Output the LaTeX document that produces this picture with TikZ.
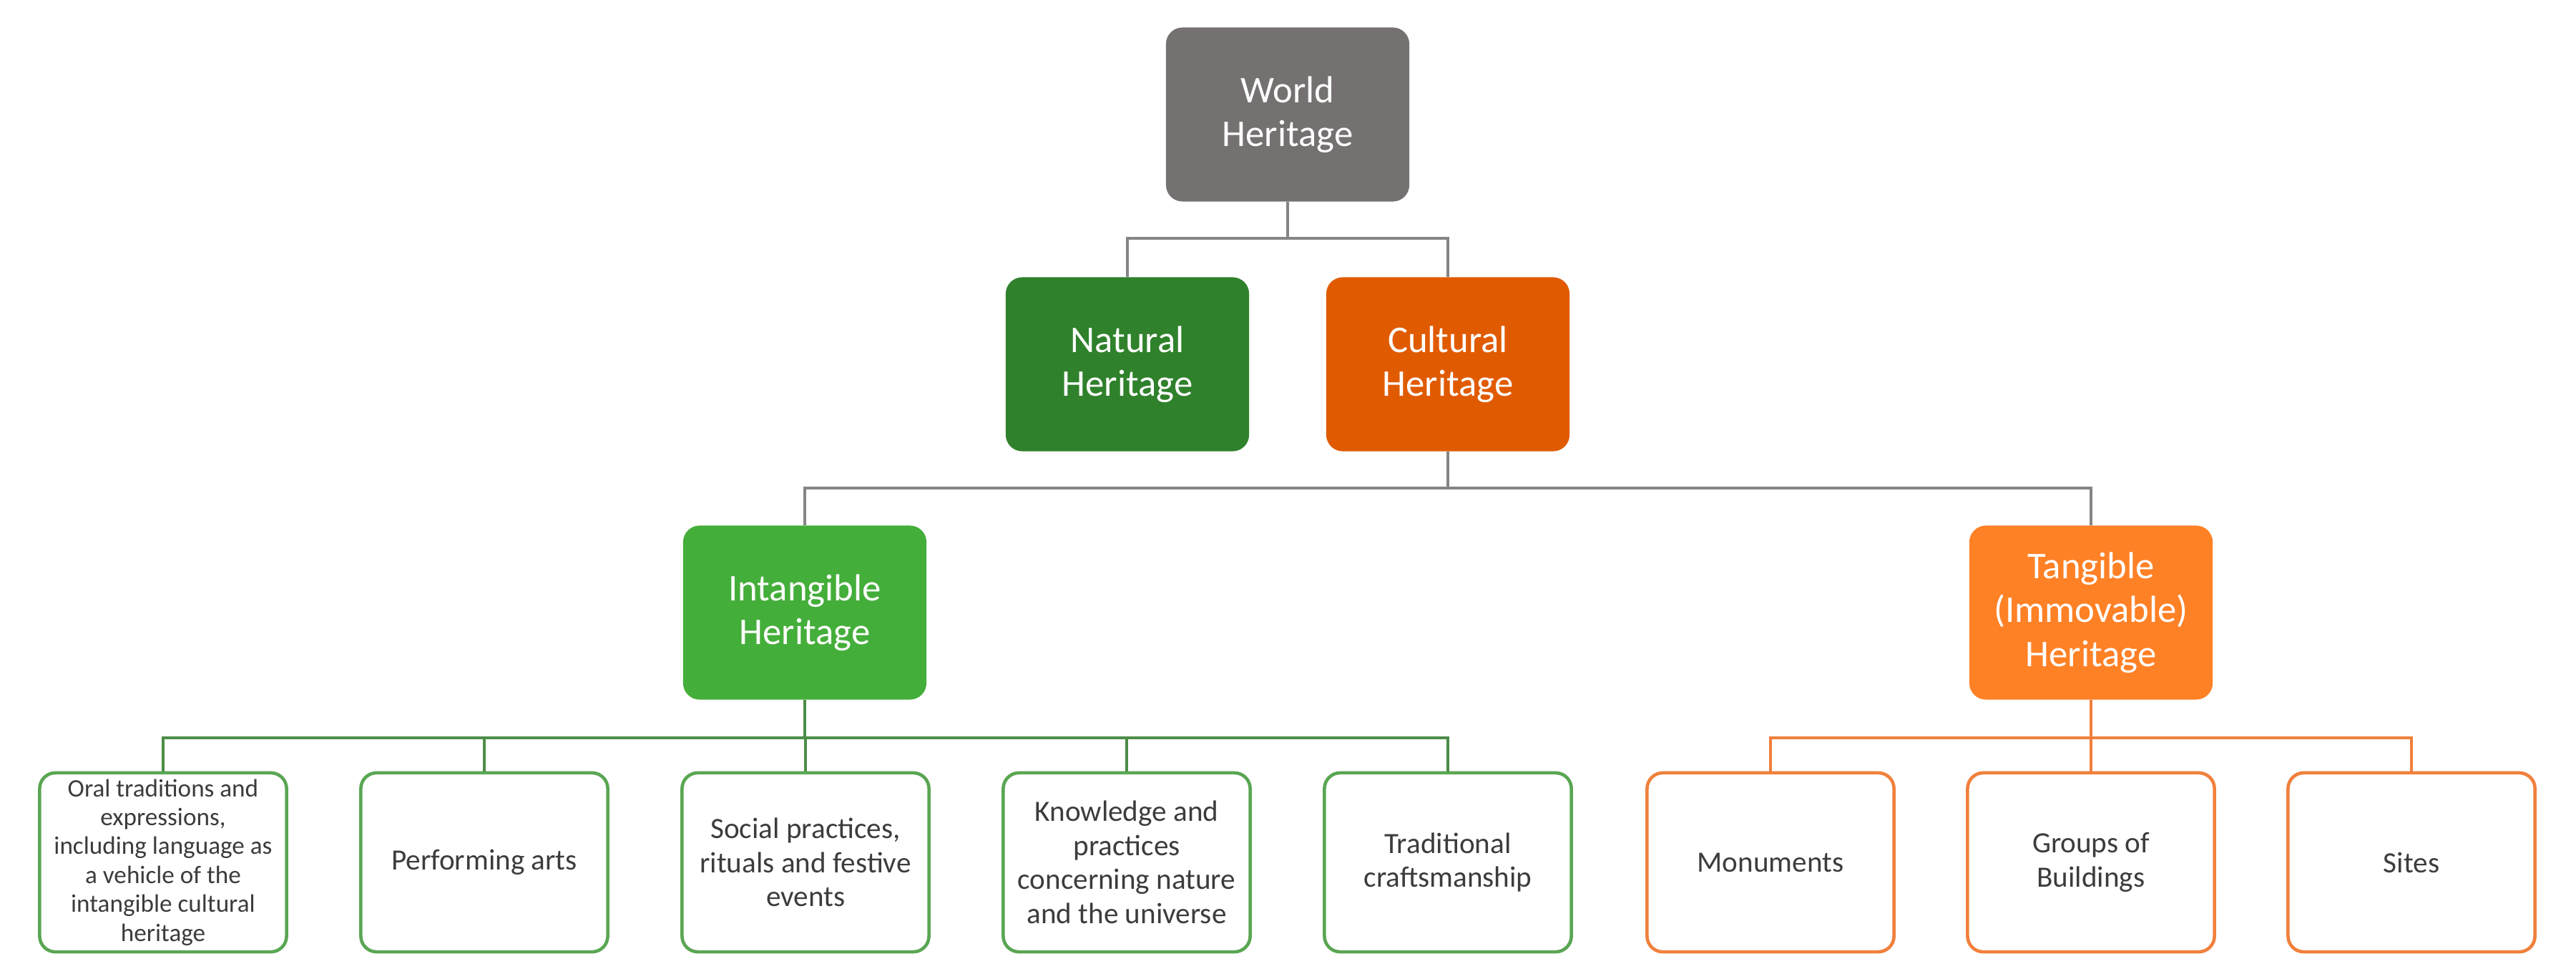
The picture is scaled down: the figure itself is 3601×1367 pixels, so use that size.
\documentclass[tikz,border=0pt]{standalone}
\usepackage{fontspec}
\setmainfont{Carlito}
\definecolor{worldgray}{HTML}{767171}
\definecolor{natgreen}{HTML}{2F812B}
\definecolor{cultorange}{HTML}{E05B00}
\definecolor{intgreen}{HTML}{44AE3A}
\definecolor{tangorange}{HTML}{FF8126}
\definecolor{linegray}{HTML}{858585}
\definecolor{leafgreen}{HTML}{5AA653}
\definecolor{leaforange}{HTML}{F0803C}
\definecolor{leaftext}{HTML}{3C3C3C}
\tikzset{
  bigbox/.style={rectangle, rounded corners=0.23cm, minimum width=3.4cm, minimum height=2.43cm,
    inner sep=0pt, align=center, text=white, font=\fontsize{15}{17.5}\selectfont},
  leafbox/.style={rectangle, rounded corners=0.22cm, minimum width=3.45cm, minimum height=2.5cm,
    inner sep=0pt, align=center, fill=white, text=leaftext, line width=1.3pt,
    font=\fontsize{11.7}{13.5}\selectfont},
  gleaf/.style={leafbox, draw=leafgreen},
  oleaf/.style={leafbox, draw=leaforange},
  grayline/.style={draw=linegray, line width=1.1pt},
  greenline/.style={draw=leafgreen!85!black, line width=1.3pt},
  orangeline/.style={draw=leaforange, line width=1.3pt},
}
\begin{document}
\begin{tikzpicture}[x=0.01cm,y=-0.01cm]
\useasboundingbox[fill=white] (0,0) rectangle (3601,1367);
% top levels
\node[bigbox, fill=worldgray] (world) at (1800,160) {World\\Heritage};
\node[bigbox, fill=natgreen] (natural) at (1576,509) {Natural\\Heritage};
\node[bigbox, fill=cultorange] (cultural) at (2024,509) {Cultural\\Heritage};
\node[bigbox, fill=intgreen] (intangible) at (1125,856) {Intangible\\Heritage};
\node[bigbox, fill=tangorange] (tangible) at (2923,856) {Tangible\\(Immovable)\\Heritage};
% leaves
\node[gleaf, font=\fontsize{10}{11.5}\selectfont] (oral) at (228,1205) {Oral traditions and\\expressions,\\including language as\\a vehicle of the\\intangible cultural\\heritage};
\node[gleaf] (perf) at (677,1205) {Performing arts};
\node[gleaf] (social) at (1126,1205) {Social practices,\\rituals and festive\\events};
\node[gleaf] (know) at (1575,1205) {Knowledge and\\practices\\concerning nature\\and the universe};
\node[gleaf] (trad) at (2024,1205) {Traditional\\craftsmanship};
\node[oleaf] (monu) at (2475,1205) {Monuments};
\node[oleaf] (groups) at (2923,1205) {Groups of\\Buildings};
\node[oleaf] (sites) at (3371,1205) {Sites};
% junctions
\coordinate (j1) at (1800,333);
\coordinate (j2) at (2024,682);
\coordinate (j3) at (1125,1031);
\coordinate (j4) at (2923,1031);
% connectors
\draw[grayline] (world.south) -- (j1);
\draw[grayline] (j1) -| (natural.north);
\draw[grayline] (j1) -| (cultural.north);
\draw[grayline] (cultural.south) -- (j2);
\draw[grayline] (j2) -| (intangible.north);
\draw[grayline] (j2) -| (tangible.north);
\draw[greenline] (intangible.south) -- (j3);
\foreach \n in {oral,perf,social,know,trad} \draw[greenline] (j3) -| (\n.north);
\draw[orangeline] (tangible.south) -- (j4);
\foreach \n in {monu,groups,sites} \draw[orangeline] (j4) -| (\n.north);
\end{tikzpicture}
\end{document}
